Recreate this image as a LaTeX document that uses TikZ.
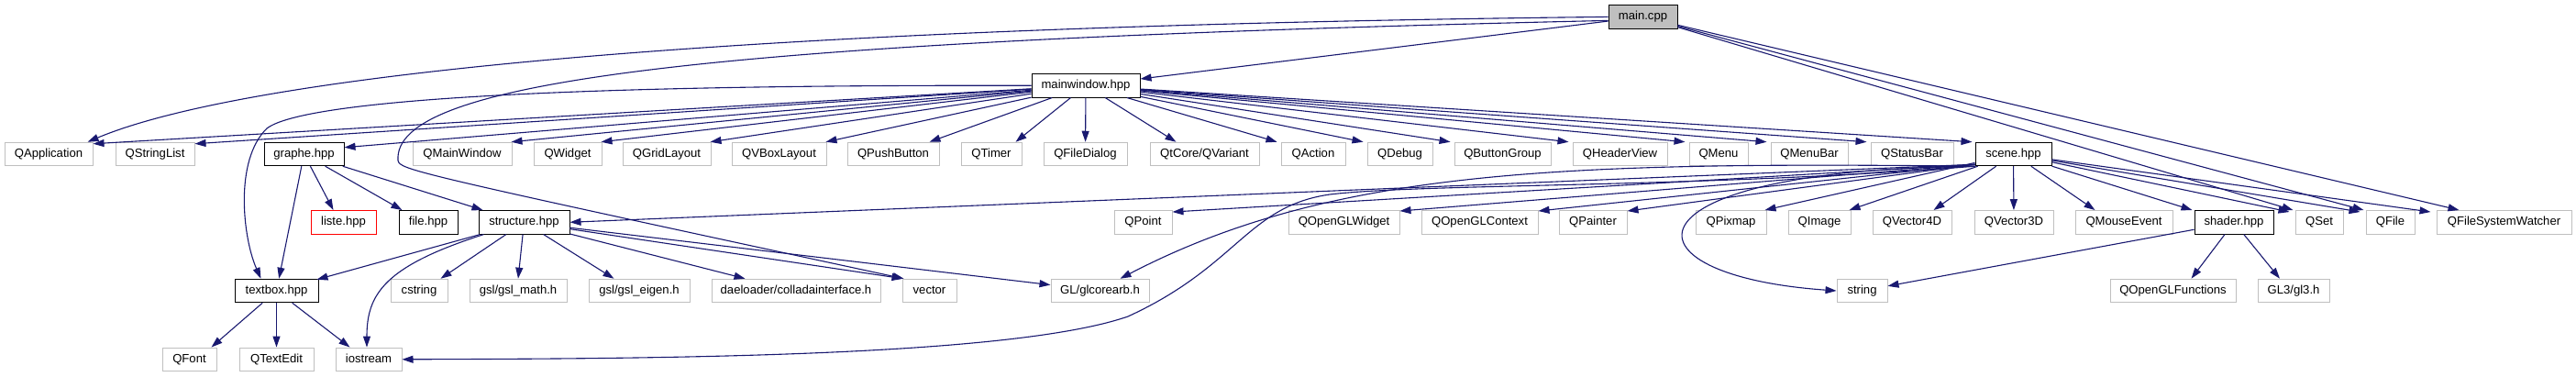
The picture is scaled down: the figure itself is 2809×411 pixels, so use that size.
\documentclass[tikz,border=0pt]{standalone}
\usepackage{fontspec}
\setmainfont{Liberation Sans}
\usetikzlibrary{arrows.meta}
\definecolor{edgeblue}{HTML}{191970}
\definecolor{boxgray}{HTML}{BFBFBF}
\begin{document}
\begin{tikzpicture}[x=1pt,y=-1pt,
  box/.style={draw, fill=white, minimum height=25.5pt, inner sep=0pt,
    text height=9.6pt, text depth=2.8pt, font=\fontsize{13.1}{15}\selectfont},
  ext/.style={box, draw=boxgray, line width=1pt},
  doc/.style={box, draw=black, line width=1pt},
  miss/.style={box, draw=red, line width=1pt},
  root/.style={box, draw=black, line width=1pt, fill=boxgray},
  dep/.style={draw=edgeblue, line width=1.1pt, -{Triangle[length=12pt,width=8pt]}}
]
\useasboundingbox (0,0) rectangle (2809,411);
% row 0
\node[root, minimum width=75pt] (main) at (1791.5,18.4) {main.cpp};
% row 1
\node[doc, minimum width=118pt] (mw) at (1184,93.3) {mainwindow.hpp};
% row 2
\node[ext, minimum width=96pt] (qapp) at (53,168) {QApplication};
\node[ext, minimum width=86pt] (qsl) at (169,168) {QStringList};
\node[doc, minimum width=87pt] (graphe) at (331.5,168) {graphe.hpp};
\node[ext, minimum width=108pt] (qmw) at (504,168) {QMainWindow};
\node[ext, minimum width=74pt] (qwid) at (619,168) {QWidget};
\node[ext, minimum width=96pt] (qgl) at (727,168) {QGridLayout};
\node[ext, minimum width=103pt] (qvbl) at (849.5,168) {QVBoxLayout};
\node[ext, minimum width=100pt] (qpb) at (974,168) {QPushButton};
\node[ext, minimum width=66pt] (qtimer) at (1081,168) {QTimer};
\node[ext, minimum width=91pt] (qfd) at (1183.5,168) {QFileDialog};
\node[ext, minimum width=119pt] (qvar) at (1313.5,168) {QtCore/QVariant};
\node[ext, minimum width=70pt] (qact) at (1432,168) {QAction};
\node[ext, minimum width=71pt] (qdbg) at (1526.5,168) {QDebug};
\node[ext, minimum width=105pt] (qbg) at (1638.5,168) {QButtonGroup};
\node[ext, minimum width=103pt] (qhv) at (1766.5,168) {QHeaderView};
\node[ext, minimum width=64pt] (qmenu) at (1874,168) {QMenu};
\node[ext, minimum width=84pt] (qmb) at (1973,168) {QMenuBar};
\node[ext, minimum width=90pt] (qsb) at (2085,168) {QStatusBar};
\node[doc, minimum width=83pt] (scene) at (2195.5,168) {scene.hpp};
% row 3
\node[miss, minimum width=71pt] (liste) at (374.5,242.3) {liste.hpp};
\node[doc, minimum width=64pt] (file) at (467,242.3) {file.hpp};
\node[doc, minimum width=99pt] (struct) at (571.5,242.3) {structure.hpp};
\node[ext, minimum width=63pt] (qpoint) at (1246.5,242.3) {QPoint};
\node[ext, minimum width=121pt] (qoglw) at (1465.5,242.3) {QOpenGLWidget};
\node[ext, minimum width=127pt] (qoglc) at (1613.5,242.3) {QOpenGLContext};
\node[ext, minimum width=74pt] (qpaint) at (1737,242.3) {QPainter};
\node[ext, minimum width=77pt] (qpix) at (1887.5,242.3) {QPixmap};
\node[ext, minimum width=68pt] (qimg) at (1984,242.3) {QImage};
\node[ext, minimum width=86pt] (qv4) at (2085,242.3) {QVector4D};
\node[ext, minimum width=86pt] (qv3) at (2196,242.3) {QVector3D};
\node[ext, minimum width=106pt] (qme) at (2316,242.3) {QMouseEvent};
\node[doc, minimum width=86pt] (shader) at (2436,242.3) {shader.hpp};
\node[ext, minimum width=52pt] (qset) at (2529,242.3) {QSet};
\node[ext, minimum width=53pt] (qfile) at (2606.5,242.3) {QFile};
\node[ext, minimum width=147pt] (qfsw) at (2730.5,242.3) {QFileSystemWatcher};
% row 4
\node[doc, minimum width=91pt] (textbox) at (301.5,317) {textbox.hpp};
\node[ext, minimum width=62pt] (cstring) at (457,317) {cstring};
\node[ext, minimum width=106pt] (gslm) at (565,317) {gsl/gsl\_math.h};
\node[ext, minimum width=110pt] (gsle) at (697,317) {gsl/gsl\_eigen.h};
\node[ext, minimum width=184pt] (dae) at (868,317) {daeloader/colladainterface.h};
\node[ext, minimum width=59pt] (vector) at (1013.5,317) {vector};
\node[ext, minimum width=107pt] (glcore) at (1199.5,317) {GL/glcorearb.h};
\node[ext, minimum width=55pt] (string) at (2030.5,317) {string};
\node[ext, minimum width=137pt] (qoglf) at (2369.5,317) {QOpenGLFunctions};
\node[ext, minimum width=78pt] (gl3) at (2501,317) {GL3/gl3.h};
% row 5
\node[ext, minimum width=59pt] (qfont) at (206.5,391.8) {QFont};
\node[ext, minimum width=81pt] (qte) at (301.5,391.8) {QTextEdit};
\node[ext, minimum width=72pt] (iostream) at (402,391.8) {iostream};

% main.cpp
\draw[dep] (main.west) .. controls (700,30) and (250,90) .. ([xshift=-6pt]qapp.north east);
\draw[dep] (main) -- (mw);
\draw[dep] ([yshift=-4pt]main.west) .. controls (750,45) and (428,90) .. (434,175) .. controls (436,185) and (448,188) .. ([xshift=2pt]vector.north west);
\draw[dep] (main) -- ([xshift=-2pt]qset.north west);
\draw[dep] (main) -- ([xshift=-2pt]qfile.north west);
\draw[dep] (main) -- ([xshift=25pt]qfsw.north west);

% mainwindow.hpp
\draw[dep] (mw) -- ([yshift=-2pt]qapp.north east);
\draw[dep] (mw) -- ([yshift=-2pt]qsl.north east);
\draw[dep] (mw) -- ([yshift=-6pt]graphe.north east);
\draw[dep] (mw) -- ([xshift=-1pt]qmw.north east);
\draw[dep] (mw) -- ([xshift=-1pt]qwid.north east);
\draw[dep] (mw) -- ([xshift=-1pt]qgl.north east);
\draw[dep] (mw) -- ([xshift=-1pt]qvbl.north east);
\draw[dep] (mw) -- ([xshift=-11pt]qpb.north east);
\draw[dep] (mw) -- ([xshift=-7pt]qtimer.north east);
\draw[dep] (mw) -- (qfd);
\draw[dep] (mw) -- ([xshift=29pt]qvar.north west);
\draw[dep] (mw) -- ([xshift=-4pt]qact.north west);
\draw[dep] (mw) -- ([xshift=-4pt]qdbg.north west);
\draw[dep] (mw) -- ([xshift=-4pt]qbg.north west);
\draw[dep] (mw) -- ([xshift=-4pt]qhv.north west);
\draw[dep] (mw) -- ([xshift=-4pt]qmenu.north west);
\draw[dep] (mw) -- ([xshift=-4pt]qmb.north west);
\draw[dep] (mw) -- ([xshift=-4pt]qsb.north west);
\draw[dep] (mw) -- ([xshift=-3pt]scene.north west);
\draw[dep] (mw.west) .. controls (600,92) and (330,110) .. (291,140) .. controls (255,175) and (265,260) .. ([xshift=-17pt]textbox.north);

% graphe.hpp
\draw[dep] (graphe) -- (textbox);
\draw[dep] (graphe) -- ([xshift=-11pt]liste.north);
\draw[dep] (graphe) -- ([xshift=4pt]file.north west);
\draw[dep] (graphe) -- ([xshift=5pt]struct.north west);

% structure.hpp
\draw[dep] (struct) -- ([xshift=-2pt,yshift=-1pt]textbox.north east);
\draw[dep] ([xshift=6pt]struct.south west) .. controls (420,290) and (400,320) .. ([xshift=-2pt]iostream.north);
\draw[dep] (struct) -- ([xshift=-8pt]cstring.north east);
\draw[dep] (struct) -- (gslm.north);
\draw[dep] (struct) -- ([xshift=28pt]gsle.north west);
\draw[dep] (struct) -- ([xshift=37pt]dae.north west);
\draw[dep] (struct) -- ([xshift=1pt]vector.north west);
\draw[dep] (struct) -- (glcore);

% textbox.hpp
\draw[dep] (textbox) -- ([xshift=-6pt]qfont.north east);
\draw[dep] (textbox) -- (qte.north);
\draw[dep] (textbox) -- ([xshift=16pt]iostream.north west);

% scene.hpp
\coordinate (sc) at ([yshift=2pt]scene.south west);
\draw[dep] (sc) -- (struct.east);
\draw[dep] (sc) -- ([yshift=-2pt]qpoint.north east);
\draw[dep] (sc) -- ([yshift=-1pt]qoglw.north east);
\draw[dep] (sc) -- ([yshift=-1pt]qoglc.north east);
\draw[dep] (sc) -- ([yshift=-1pt]qpaint.north east);
\draw[dep] (scene) -- ([xshift=-2pt]qpix.north east);
\draw[dep] (scene) -- ([xshift=-2pt]qimg.north east);
\draw[dep] (scene) -- ([xshift=-20pt]qv4.north east);
\draw[dep] (scene) -- (qv3);
\draw[dep] (scene) -- ([xshift=22pt]qme.north west);
\draw[dep] (scene) -- ([xshift=-2pt]shader.north west);
\draw[dep] (scene) -- ([xshift=-6pt,yshift=-2pt]qset.north west);
\draw[dep] (scene) -- ([xshift=-6pt,yshift=-2pt]qfile.north west);
\draw[dep] (scene) -- ([xshift=-6pt,yshift=-2pt]qfsw.north west);
\draw[dep] (scene.south west) .. controls (1760,185) and (1760,300) .. (string.west);
\draw[dep] (scene.south west) .. controls (1700,176) and (1450,185) .. ([xshift=22pt]glcore.north);
\draw[dep] (scene.south west) .. controls (1850,205) and (1550,200) .. (1450,212) .. controls (1360,225) and (1350,290) .. (1230,345) .. controls (1100,390) and (700,391) .. (iostream.east);

% shader.hpp
\draw[dep] (shader) -- (string);
\draw[dep] (shader) -- ([xshift=20pt]qoglf.north);
\draw[dep] (shader) -- ([xshift=-15pt]gl3.north);
\end{tikzpicture}
\end{document}
